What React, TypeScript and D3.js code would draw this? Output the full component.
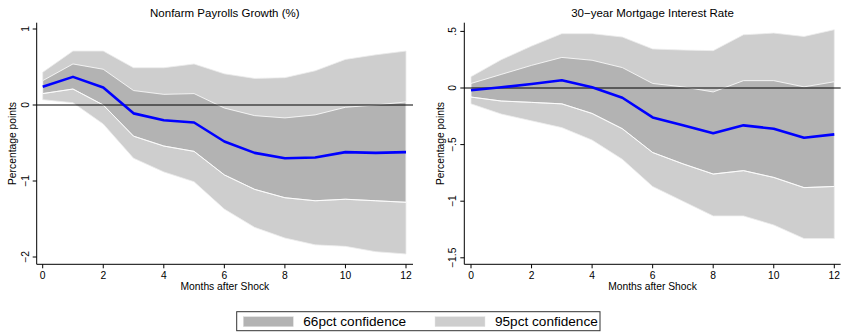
import React from "react";
import * as d3 from "d3";

const months = [0, 1, 2, 3, 4, 5, 6, 7, 8, 9, 10, 11, 12];
const xTicks = [0, 2, 4, 6, 8, 10, 12];

// Nonfarm Payrolls Growth (%)
const payEst = [0.24, 0.37, 0.23, -0.11, -0.2, -0.23, -0.48, -0.63, -0.7, -0.69, -0.62, -0.63, -0.62];
const payHi66 = [0.32, 0.54, 0.47, 0.19, 0.14, 0.15, -0.04, -0.14, -0.17, -0.13, -0.03, 0.0, 0.04];
const payLo66 = [0.15, 0.21, 0.0, -0.41, -0.54, -0.61, -0.92, -1.11, -1.22, -1.26, -1.24, -1.26, -1.28];
const payHi95 = [0.43, 0.71, 0.71, 0.49, 0.49, 0.54, 0.41, 0.35, 0.36, 0.45, 0.6, 0.66, 0.71];
const payLo95 = [0.07, 0.03, -0.25, -0.7, -0.88, -1.01, -1.37, -1.61, -1.75, -1.84, -1.86, -1.93, -1.96];
const payYTicks = [-2, -1, 0, 1];
const payYLabels = ["\u22122", "\u22121", "0", "1"];

// 30-year Mortgage Interest Rate
const mtgEst = [-0.02, 0.006, 0.035, 0.068, 0.006, -0.086, -0.26, -0.33, -0.4, -0.33, -0.36, -0.44, -0.41];
const mtgHi66 = [0.04, 0.12, 0.2, 0.27, 0.245, 0.18, 0.04, 0.01, -0.035, 0.065, 0.065, 0.01, 0.055];
const mtgLo66 = [-0.08, -0.115, -0.127, -0.14, -0.225, -0.36, -0.57, -0.67, -0.76, -0.73, -0.79, -0.88, -0.87];
const mtgHi95 = [0.1, 0.25, 0.37, 0.48, 0.48, 0.45, 0.345, 0.335, 0.33, 0.47, 0.485, 0.455, 0.515];
const mtgLo95 = [-0.14, -0.23, -0.29, -0.35, -0.46, -0.63, -0.87, -1.0, -1.13, -1.13, -1.21, -1.33, -1.33];
const mtgYTicks = [-1.5, -1, -0.5, 0, 0.5];
const mtgYLabels = ["\u22121.5", "\u22121", "\u2212.5", "0", ".5"];

const panelTitles = ["Nonfarm Payrolls Growth (%)", "30\u2212year Mortgage Interest Rate"];
const legendLabels = ["66pct confidence", "95pct confidence"];

const C66 = "#b3b3b3";
const C95 = "#cecece";
const FONT = "'Liberation Sans', Arial, Helvetica, sans-serif";

type PanelProps = {
  title: string;
  est: number[];
  hi66: number[];
  lo66: number[];
  hi95: number[];
  lo95: number[];
  yDomain: [number, number];
  yRange: [number, number];
  yTicks: number[];
  yLabels: string[];
  axisX: number;
  x0: number;
  x12: number;
  rightEdge: number;
  yLabelX: number;
  tickLabelX: number;
};

const AXIS_TOP = 22.7;
const AXIS_BOTTOM = 264.3;

function Panel(p: PanelProps) {
  const x = d3.scaleLinear().domain([0, 12]).range([p.x0, p.x12]);
  const y = d3.scaleLinear().domain(p.yDomain).range(p.yRange);
  const band = (lo: number[], hi: number[]) =>
    d3
      .area<number>()
      .x((d) => x(d))
      .y0((d, i) => y(lo[i]))
      .y1((d, i) => y(hi[i]))(months) as string;
  const line = (v: number[]) =>
    d3
      .line<number>()
      .x((d) => x(d))
      .y((d, i) => y(v[i]))(months) as string;
  const cx = (p.axisX + p.rightEdge) / 2;
  const cy = (AXIS_TOP + AXIS_BOTTOM) / 2;
  return (
    <g fontFamily={FONT} fill="#000">
      <text x={cx} y={17} textAnchor="middle" fontSize={11.5}>
        {p.title}
      </text>
      <path d={band(p.lo95, p.hi95)} fill={C95} stroke="#ececec" strokeWidth={0.8} />
      <path d={band(p.lo66, p.hi66)} fill={C66} stroke="#fff" strokeWidth={0.8} />
      <path d={line(p.lo66)} fill="none" stroke="#fff" strokeWidth={0.8} />
      <line x1={p.axisX} x2={p.rightEdge} y1={y(0)} y2={y(0)} stroke="#000" strokeWidth={1} />
      <path d={line(p.est)} fill="none" stroke="#0000ff" strokeWidth={2.6} strokeLinejoin="round" />
      <line x1={p.axisX} x2={p.axisX} y1={AXIS_TOP} y2={AXIS_BOTTOM} stroke="#000" strokeWidth={1} />
      <line x1={p.axisX} x2={p.rightEdge} y1={AXIS_BOTTOM} y2={AXIS_BOTTOM} stroke="#000" strokeWidth={1} />
      {p.yTicks.map((t, i) => (
        <g key={"y" + t}>
          <line x1={p.axisX - 4} x2={p.axisX} y1={y(t)} y2={y(t)} stroke="#000" strokeWidth={1} />
          <text
            transform={`translate(${p.tickLabelX},${y(t)}) rotate(-90)`}
            textAnchor="middle"
            dy="0.35em"
            fontSize={10.3}
          >
            {p.yLabels[i]}
          </text>
        </g>
      ))}
      {xTicks.map((t) => (
        <g key={"x" + t}>
          <line x1={x(t)} x2={x(t)} y1={AXIS_BOTTOM} y2={AXIS_BOTTOM + 4} stroke="#000" strokeWidth={1} />
          <text x={x(t)} y={279} textAnchor="middle" fontSize={10.3}>
            {t}
          </text>
        </g>
      ))}
      <text x={cx} y={290} textAnchor="middle" fontSize={10.3}>
        Months after Shock
      </text>
      <text
        transform={`translate(${p.yLabelX},${cy}) rotate(-90)`}
        textAnchor="middle"
        dy="0.35em"
        fontSize={10.3}
      >
        Percentage points
      </text>
    </g>
  );
}

export default function App() {
  return (
    <svg
      width={841}
      height={333}
      style={{ position: "absolute", left: 0, top: 0, background: "#fff" }}
    >
      <rect x={0} y={0} width={841} height={333} fill="#fff" />
      <Panel
        title={panelTitles[0]}
        est={payEst}
        hi66={payHi66}
        lo66={payLo66}
        hi95={payHi95}
        lo95={payLo95}
        yDomain={[-2, 1]}
        yRange={[257, 29]}
        yTicks={payYTicks}
        yLabels={payYLabels}
        axisX={36.7}
        x0={42.7}
        x12={406}
        rightEdge={413}
        yLabelX={12}
        tickLabelX={25}
      />
      <Panel
        title={panelTitles[1]}
        est={mtgEst}
        hi66={mtgHi66}
        lo66={mtgLo66}
        hi95={mtgHi95}
        lo95={mtgLo95}
        yDomain={[-1.5, 0.5]}
        yRange={[257.8, 31.4]}
        yTicks={mtgYTicks}
        yLabels={mtgYLabels}
        axisX={464.3}
        x0={471}
        x12={834.3}
        rightEdge={840.7}
        yLabelX={440}
        tickLabelX={452}
      />
      <g fontFamily={FONT}>
        <rect x={236.7} y={311.7} width={363.3} height={19} fill="#fff" stroke="#333" strokeWidth={1} />
        <rect x={243.3} y={316.7} width={50} height={10} fill={C66} stroke="#e0e0e0" strokeWidth={0.5} />
        <text x={303.3} y={326.3} fontSize={13.6}>
          {legendLabels[0]}
        </text>
        <rect x={435} y={316.7} width={50} height={10} fill={C95} stroke="#e6e6e6" strokeWidth={0.5} />
        <text x={495} y={326.3} fontSize={13.6}>
          {legendLabels[1]}
        </text>
      </g>
    </svg>
  );
}
